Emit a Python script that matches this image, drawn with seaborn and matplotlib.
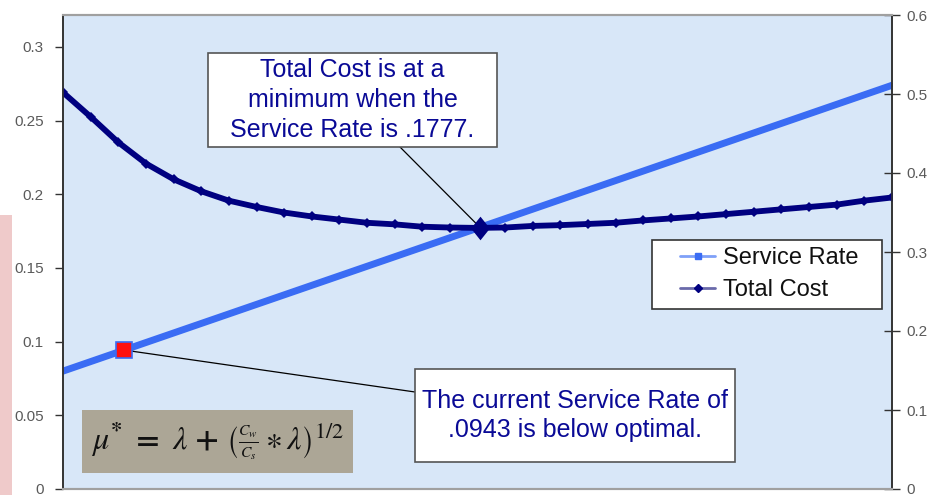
import matplotlib
matplotlib.use("Agg")
import matplotlib.pyplot as plt
import seaborn as sns
from matplotlib.patches import Rectangle
from matplotlib.lines import Line2D
from matplotlib.ticker import FuncFormatter

# values
service_rate = [0.0800, 0.0865, 0.0929, 0.0994, 0.1059, 0.1123, 0.1188, 0.1253,
                0.1317, 0.1382, 0.1447, 0.1511, 0.1576, 0.1641, 0.1705, 0.1770,
                0.1835, 0.1899, 0.1964, 0.2029, 0.2093, 0.2158, 0.2223, 0.2287,
                0.2352, 0.2417, 0.2481, 0.2546, 0.2611, 0.2675, 0.2740]
total_cost = [0.502, 0.471, 0.439, 0.412, 0.392, 0.377, 0.365, 0.357,
              0.350, 0.345, 0.341, 0.337, 0.335, 0.332, 0.331, 0.3305,
              0.331, 0.333, 0.334, 0.3355, 0.337, 0.340, 0.3425, 0.345,
              0.348, 0.351, 0.354, 0.357, 0.360, 0.365, 0.369]
opt_rate, opt_cost = 0.1777, 0.3305
current_rate = 0.0943
left_ticks = [0, 0.05, 0.1, 0.15, 0.2, 0.25, 0.3]
right_ticks = [0, 0.1, 0.2, 0.3, 0.4, 0.5, 0.6]

W, H = 930, 495
sns.set_style("white")
plt.rcParams["font.family"] = ["Liberation Sans", "DejaVu Sans"]
plt.rcParams["mathtext.fontset"] = "stix"

fig = plt.figure(figsize=(W / 100, H / 100), dpi=100)
fig.patch.set_facecolor("white")


def fx(px):
    return px / W


def fy(py):
    return 1 - py / H


# pinkish slide background at the left edge
fig.add_artist(Rectangle((0, 0), fx(12), fy(215), transform=fig.transFigure,
                         facecolor="#efcaca", edgecolor="none", zorder=-5))

ax = fig.add_axes([fx(63), fy(489), fx(892) - fx(63), fy(15) - fy(489)])
ax.set_facecolor("#d8e7f8")
ax2 = ax.twinx()

blue = "#3a6cf4"
navy = "#000080"

sns.lineplot(x=service_rate, y=service_rate, ax=ax, color=blue, lw=5,
             marker="s", markersize=3, markeredgewidth=0, label="Service Rate",
             legend=False)
sns.lineplot(x=service_rate, y=total_cost, ax=ax2, color=navy, lw=4.2,
             marker="D", markersize=5.5, markeredgewidth=0, label="Total Cost",
             legend=False)

ax.plot([current_rate], [current_rate], marker="s", ms=11, color="#ff1010",
        mec=blue, mew=1.2, zorder=5)
diamond = [(0, 1), (0.8, 0), (0, -1), (-0.8, 0), (0, 1)]
ax2.plot([opt_rate], [opt_cost], marker=diamond, ms=17, color=navy, mew=0, zorder=6)

ax.set_xlim(service_rate[0], service_rate[-1])
ax.set_ylim(0, 0.3217)
ax2.set_ylim(0, 0.6)
ax.set_xticks([])
ax.set_yticks(left_ticks)
ax2.set_yticks(right_ticks)
fmt = FuncFormatter(lambda v, p: f"{v:g}")
ax.yaxis.set_major_formatter(fmt)
ax2.yaxis.set_major_formatter(fmt)
ax.tick_params(axis="y", direction="out", length=6, width=1, color="#333333",
               labelsize=11, labelcolor="#5a5a5a", pad=8, left=True)
ax2.tick_params(axis="y", direction="inout", length=12, width=1, color="#333333",
                labelsize=11, labelcolor="#5a5a5a", pad=4, right=True)
for a in (ax, ax2):
    a.set_xlabel("")
    a.set_ylabel("")
    for side in ("left", "right"):
        a.spines[side].set_color("#333333")
        a.spines[side].set_linewidth(1.2)
    for side in ("top", "bottom"):
        a.spines[side].set_color("#a0a0a0")
        a.spines[side].set_linewidth(1.5)

# legend: own frame so the side padding can be wider than the top padding
ax2.add_patch(Rectangle((fx(652), fy(309)), fx(882) - fx(652), fy(240) - fy(309),
                        transform=fig.transFigure, facecolor="white",
                        edgecolor="#333333", lw=1.2, zorder=15, clip_on=False))
handles = [Line2D([], [], color="#7fa0f8", lw=2, marker="s", ms=5, mfc=blue, mec=blue),
           Line2D([], [], color="#6a6aaa", lw=2, marker="D", ms=4, mfc=navy, mec=navy)]
leg = ax2.legend(handles, ["Service Rate", "Total Cost"], loc="center left",
                 bbox_to_anchor=(fx(680), fy(274)), bbox_transform=fig.transFigure,
                 fontsize=17, frameon=False, handlelength=1.5,
                 handletextpad=0.3, borderpad=0, labelspacing=0.42,
                 borderaxespad=0)
for t in leg.get_texts():
    t.set_color("#111111")
leg.set_zorder(20)

# leader lines from the callouts
ax2.annotate("", xy=(opt_rate, opt_cost), xycoords="data",
             xytext=(fx(400), fy(147)), textcoords="figure fraction",
             arrowprops=dict(arrowstyle="-", color="black", lw=0.9, shrinkA=0, shrinkB=0))
ax.annotate("", xy=(current_rate, current_rate), xycoords="data",
            xytext=(fx(415), fy(392)), textcoords="figure fraction",
            arrowprops=dict(arrowstyle="-", color="black", lw=0.9, shrinkA=0, shrinkB=0))


def callout(x0, y0, x1, y1, text):
    fig.add_artist(Rectangle((fx(x0), fy(y1)), fx(x1) - fx(x0), fy(y0) - fy(y1),
                             transform=fig.transFigure, facecolor="white",
                             edgecolor="#555555", lw=1.2, zorder=10))
    fig.text(fx((x0 + x1) / 2), fy((y0 + y1) / 2), text, ha="center", va="center",
             fontsize=18, color="#0a0a96", linespacing=1.3, zorder=11)


callout(208, 53, 497, 147, "Total Cost is at a\nminimum when the\nService Rate is .1777.")
callout(415, 369, 735, 462, "The current Service Rate of\n.0943 is below optimal.")

# formula box
fig.add_artist(Rectangle((fx(82), fy(473)), fx(353) - fx(82), fy(410) - fy(473),
                         transform=fig.transFigure, facecolor="#aca696",
                         edgecolor="none", zorder=10))
fig.text(fx(218), fy(441),
         r"$\mu^{\mathbf{*}}\ \mathbf{=}\ \lambda\ \mathbf{+}\ "
         r"\left(\genfrac{}{}{0.6}{2}{C_w}{C_s}\ast\lambda\right)^{1/2}$",
         ha="center", va="center", fontsize=23, color="#111111", zorder=11)

fig.savefig("out.png", dpi=100)
